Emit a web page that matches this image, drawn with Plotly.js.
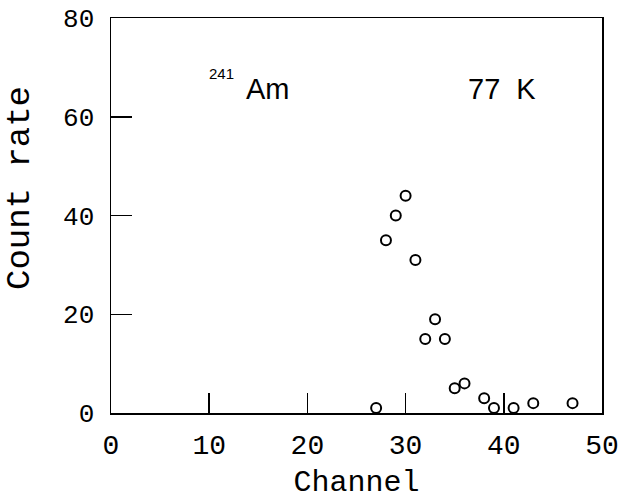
<!DOCTYPE html>
<html>
<head>
<meta charset="utf-8">
<script src="https://cdn.plot.ly/plotly-3.0.1.min.js"></script>
<style>html,body{margin:0;padding:0;background:#fff;}</style>
</head>
<body>
<div id="chart" style="width:621px;height:500px;"></div>
<script>
var channel = [27, 28, 29, 30, 31, 32, 33, 34, 35, 36, 38, 39, 41, 43, 47];
var countRate = [1, 35, 40, 44, 31, 15, 19, 15, 5, 6, 3, 1, 1, 2, 2];
var xTicks = [0, 10, 20, 30, 40, 50];
var yTicks = [0, 20, 40, 60, 80];

var monoFont = "Liberation Mono, DejaVu Sans Mono, monospace";
var sansFont = "Liberation Sans, Arial, sans-serif";

var trace = {
  x: channel,
  y: countRate,
  type: 'scatter',
  mode: 'markers',
  marker: {symbol: 'circle-open', size: 10, color: '#000', line: {width: 2, color: '#000'}},
  showlegend: false,
  hoverinfo: 'x+y'
};

var layout = {
  width: 621,
  height: 500,
  margin: {l: 111, r: 19, t: 18, b: 87},
  paper_bgcolor: '#fff',
  plot_bgcolor: '#fff',
  showlegend: false,
  xaxis: {
    range: [0, 50],
    tickvals: xTicks,
    ticktext: xTicks.map(String),
    ticks: 'inside',
    ticklen: 20,
    tickwidth: 1.5,
    tickcolor: '#000',
    showline: true,
    linecolor: '#000',
    linewidth: 1.5,
    mirror: true,
    showgrid: false,
    zeroline: false,
    tickfont: {family: monoFont, size: 28, color: '#000'},
    ticklabelstandoff: 6,
    title: {text: 'Channel', font: {family: monoFont, size: 30, color: '#000'}, standoff: 9}
  },
  yaxis: {
    range: [0, 80],
    tickvals: yTicks,
    ticktext: yTicks.map(String),
    ticks: 'inside',
    ticklen: 21,
    tickwidth: 1.5,
    tickcolor: '#000',
    showline: true,
    linecolor: '#000',
    linewidth: 1.5,
    mirror: true,
    showgrid: false,
    zeroline: false,
    tickfont: {family: monoFont, size: 26, color: '#000'},
    ticklabelstandoff: 10,
    title: {text: ''}
  },
  annotations: [
    {x: -0.185, y: 0.57, xref: 'paper', yref: 'paper', text: 'Count rate', showarrow: false,
     textangle: -90, xanchor: 'center', yanchor: 'middle',
     font: {family: monoFont, size: 34, color: '#000'}},
    {x: 9.8, y: 68.8, xref: 'x', yref: 'y', text: '241', showarrow: false,
     xanchor: 'left', yanchor: 'middle', font: {family: sansFont, size: 15, color: '#000'}},
    {x: 13.5, y: 69.3, xref: 'x', yref: 'y', text: 'Am', showarrow: false,
     xanchor: 'left', yanchor: 'top', font: {family: sansFont, size: 29, color: '#000'}},
    {x: 36.1, y: 69.3, xref: 'x', yref: 'y', text: '77\u00a0\u00a0K', showarrow: false,
     xanchor: 'left', yanchor: 'top', font: {family: sansFont, size: 29, color: '#000'}}
  ]
};

Plotly.newPlot('chart', [trace], layout, {displayModeBar: false, staticPlot: true});
</script>
</body>
</html>
